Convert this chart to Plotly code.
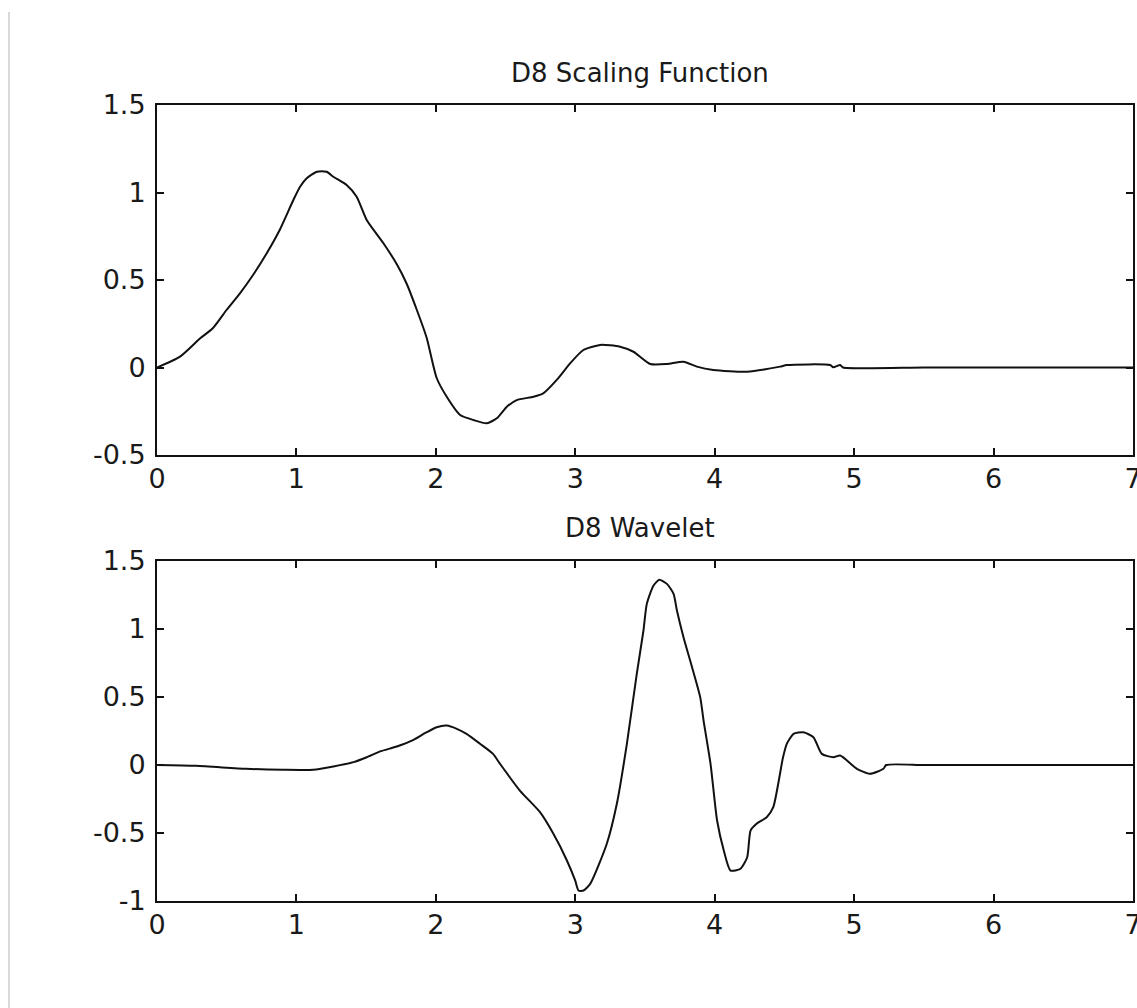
import plotly.graph_objects as go

# D8 scaling function samples (x, phi)
phi_x = [0.0, 0.165, 0.31, 0.40, 0.50, 0.595, 0.69, 0.787, 0.88, 0.978, 1.026, 1.074,
         1.146, 1.217, 1.265, 1.36, 1.432, 1.504, 1.624, 1.72, 1.79, 1.863, 1.934,
         2.006, 2.078, 2.174, 2.27, 2.365, 2.437, 2.509, 2.58, 2.70, 2.77, 2.867,
         2.963, 3.058, 3.178, 3.321, 3.417, 3.537, 3.657, 3.776, 3.872, 3.99, 4.23,
         4.469, 4.517, 4.828, 4.85, 4.9, 4.92, 5.5, 6.0, 6.5, 7.0]
phi_y = [0.0, 0.062, 0.167, 0.224, 0.33, 0.424, 0.53, 0.653, 0.786, 0.957, 1.033, 1.081,
         1.119, 1.119, 1.09, 1.043, 0.976, 0.843, 0.71, 0.59, 0.48, 0.33, 0.17,
         -0.06, -0.167, -0.271, -0.30, -0.319, -0.29, -0.224, -0.186, -0.167, -0.148, -0.071,
         0.024, 0.10, 0.129, 0.119, 0.09, 0.02, 0.02, 0.033, 0.005, -0.014, -0.024,
         0.005, 0.014, 0.014, 0.001, 0.014, 0.0, 0.0, 0.0, 0.0, 0.0]

# D8 wavelet samples (x, psi)
psi_x = [0.0, 0.28, 0.64, 0.906, 1.12, 1.265, 1.409, 1.504, 1.60, 1.72, 1.84, 1.934,
         2.006, 2.078, 2.15, 2.22, 2.317, 2.41, 2.46, 2.604, 2.747, 2.843, 2.939, 2.999,
         3.023, 3.059, 3.107, 3.226, 3.298, 3.37, 3.441, 3.489, 3.513, 3.561, 3.603,
         3.657, 3.705, 3.729, 3.776, 3.824, 3.896, 3.92, 3.97, 4.017, 4.065, 4.113,
         4.185, 4.233, 4.257, 4.30, 4.373, 4.42, 4.49, 4.517, 4.565, 4.636, 4.708,
         4.768, 4.851, 4.9, 5.02, 5.115, 5.21, 5.23, 5.5, 6.0, 6.5, 7.0]
psi_y = [0.0, -0.006, -0.028, -0.035, -0.035, -0.011, 0.021, 0.057, 0.10, 0.136, 0.185, 0.241,
         0.278, 0.29, 0.266, 0.229, 0.156, 0.082, 0.009, -0.19, -0.347, -0.506, -0.70, -0.849,
         -0.923, -0.923, -0.874, -0.579, -0.285, 0.156, 0.67, 0.989, 1.185, 1.32, 1.362,
         1.332, 1.259, 1.136, 0.94, 0.768, 0.499, 0.327, 0.009, -0.408, -0.629, -0.776,
         -0.763, -0.678, -0.482, -0.432, -0.384, -0.31, 0.057, 0.156, 0.229, 0.241, 0.204,
         0.082, 0.057, 0.07, -0.028, -0.065, -0.028, 0.0, 0.0, 0.0, 0.0, 0.0]

x_ticks = [0, 1, 2, 3, 4, 5, 6, 7]
y_ticks_top = [-0.5, 0, 0.5, 1, 1.5]
y_ticks_bottom = [-1, -0.5, 0, 0.5, 1, 1.5]
titles = ["D8 Scaling Function", "D8 Wavelet"]

W, H = 1137, 1008
ML, MR, MT, MB = 157, 4, 105, 107
FONT = "DejaVu Sans"
LINE = dict(color="#111111", width=2, shape="spline", smoothing=0.6)

fig = go.Figure()
fig.add_trace(go.Scatter(x=phi_x, y=phi_y, mode="lines", xaxis="x", yaxis="y",
                         line=LINE, showlegend=False))
fig.add_trace(go.Scatter(x=psi_x, y=psi_y, mode="lines", xaxis="x2", yaxis="y2",
                         line=LINE, showlegend=False))

axis_common = dict(
    showline=True, linecolor="#111111", linewidth=2, mirror="allticks",
    ticks="inside", ticklen=7, tickwidth=2, tickcolor="#111111",
    showgrid=False, zeroline=False, ticklabeloverflow="allow", automargin=False,
    tickfont=dict(family=FONT, size=27, color="#1a1a1a"),
)

fig.update_layout(
    width=W, height=H,
    margin=dict(l=ML, r=MR, t=MT, b=MB, autoexpand=False),
    paper_bgcolor="white", plot_bgcolor="white",
    xaxis=dict(domain=[0, 1], range=[0, 7], tickvals=x_ticks, anchor="y",
               ticklabelstandoff=-1, **axis_common),
    yaxis=dict(domain=[0.5603, 1], range=[-0.5, 1.5], tickvals=y_ticks_top,
               ticktext=["-0.5", "0", "0.5", "1", "1.5"], anchor="x",
               ticklabelstandoff=4, **axis_common),
    xaxis2=dict(domain=[0, 1], range=[0, 7], tickvals=x_ticks, anchor="y2",
                ticklabelstandoff=-1, **axis_common),
    yaxis2=dict(domain=[0, 0.4271], range=[-1, 1.5], tickvals=y_ticks_bottom,
                ticktext=["-1", "-0.5", "0", "0.5", "1", "1.5"], anchor="x2",
                ticklabelstandoff=4, **axis_common),
    annotations=[
        dict(text=titles[0], xref="paper", yref="paper", x=0.4949, y=1.0408,
             xanchor="center", yanchor="middle", showarrow=False,
             font=dict(family=FONT, size=26, color="#1a1a1a")),
        dict(text=titles[1], xref="paper", yref="paper", x=0.4949, y=0.4692,
             xanchor="center", yanchor="middle", showarrow=False,
             font=dict(family=FONT, size=26, color="#1a1a1a")),
    ],
    shapes=[
        # thin page border on the left
        dict(type="line", xref="paper", yref="paper",
             x0=(9 - ML) / (W - ML - MR), x1=(9 - ML) / (W - ML - MR),
             y0=(H - MB - 12) / (H - MT - MB), y1=-MB / (H - MT - MB),
             line=dict(color="#d9d9d9", width=2)),
    ],
)

fig.write_html("out.html")
